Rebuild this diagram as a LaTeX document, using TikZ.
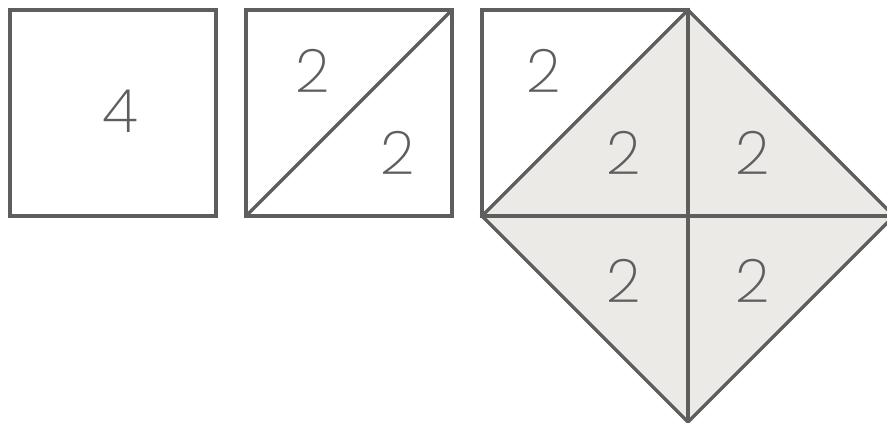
\documentclass[tikz,border=0pt]{standalone}
\usepackage{fontspec}
\newfontfamily\numfont{Poppins ExtraLight}
\usepackage{tikz}
\usetikzlibrary{calc}
\definecolor{edgegray}{HTML}{5E5E5E}
\definecolor{tilegray}{HTML}{ECEAE6}
\begin{document}
\begin{tikzpicture}[
        x=1pt, y=-1pt,
        edge/.style={draw=edgegray, line width=3.2pt, line join=miter},
        tile/.style={fill=tilegray},
        num/.style={font=\numfont\fontsize{60}{60}\selectfont, text=edgegray, inner sep=0pt}
    ]
        \useasboundingbox (0,0) rectangle (887,423);
        \clip (0,0) rectangle (887,423);

        % corner points
        \coordinate (sqA) at (10,10);
        \coordinate (sqB) at (246,10);
        \coordinate (sqC) at (482,10);
        \coordinate (dL) at (482,216);
        \coordinate (dT) at (688,10);
        \coordinate (dR) at (894,216);
        \coordinate (dB) at (688,422);
        \coordinate (dM) at (688,216);

        % diamond tiles
        \fill[tile] (dL) -- (dT) -- (dR) -- (dB) -- cycle;

        % squares
        \draw[edge] (sqA) rectangle ++(206,206);
        \draw[edge] (sqB) rectangle ++(206,206);
        \draw[edge] ($(sqB)+(0,206)$) -- ($(sqB)+(206,0)$);
        \draw[edge] (sqC) rectangle ++(206,206);
        \draw[edge] (dL) -- (dT) -- (dR) -- (dB) -- cycle;
        \draw[edge] (dL) -- (dR);
        \draw[edge] (dT) -- (dB);

        % labels
        \node[num] (four) at (120,111) {4};
        \node[num] (halfa) at (313,71) {2};
        \node[num] (halfb) at (398,153) {2};
        \node[num] (cornr) at (544,71) {2};
        \node[num] (qtl) at (624,153) {2};
        \node[num] (qtr) at (753,153) {2};
        \node[num] (qbl) at (624,281) {2};
        \node[num] (qbr) at (753,281) {2};
    \end{tikzpicture}
\end{document}
